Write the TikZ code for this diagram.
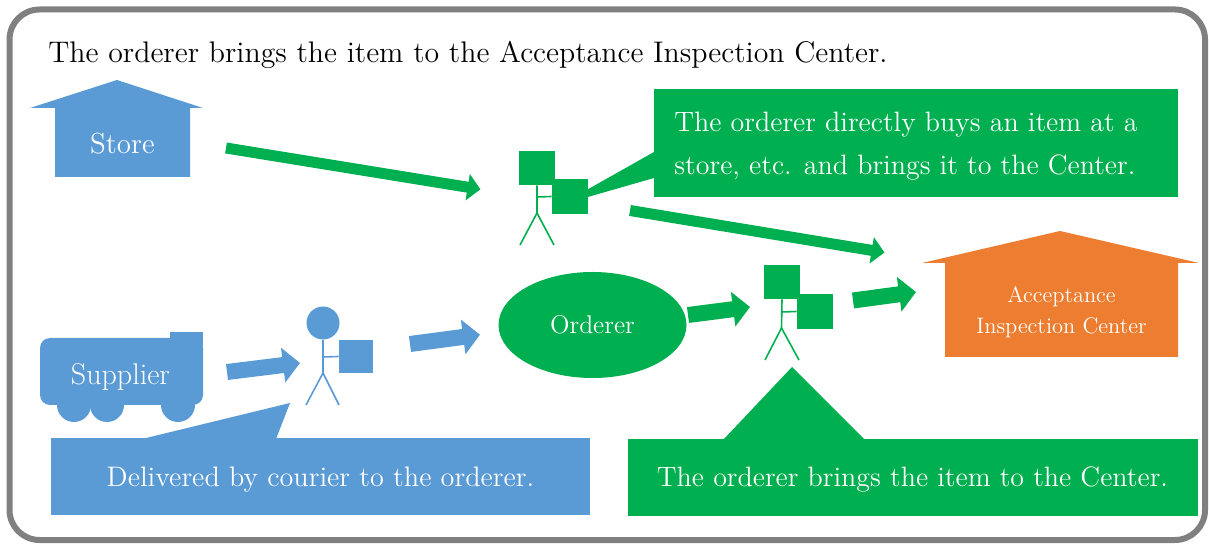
\documentclass[tikz,border=0pt]{standalone}
\usetikzlibrary{shapes.geometric,arrows.meta}
\definecolor{bleu}{RGB}{91,155,213}
\definecolor{vert}{RGB}{0,176,80}
\definecolor{orangeC}{RGB}{237,125,49}
\definecolor{cadre}{RGB}{128,128,128}
\begin{document}
\begin{tikzpicture}[x=0.5pt,y=-0.5pt]
% styles des nœuds
\tikzstyle{texte}=[text=white,inner sep=0pt]
\tikzstyle{colis}=[rectangle,inner sep=0pt,minimum width=18pt,minimum height=17.5pt]
\tikzstyle{trait}=[line width=0.8pt]
% styles des flèches
\tikzstyle{grosse}=[line width=8pt,-{Triangle[length=8.5pt,width=17pt]}]
\tikzstyle{fine}=[line width=5.5pt,-{Triangle[length=6.5pt,width=13pt]}]
\useasboundingbox (0,0) rectangle (1209,544);
% cadre et titre
\draw[cadre,line width=3pt,rounded corners=15pt] (9.5,9.5) rectangle (1205,540);
\node[anchor=base west,inner sep=0pt,font=\fontsize{14.9}{17}\selectfont] (titre) at (48,63) {The orderer brings the item to the Acceptance Inspection Center.};
% magasin
\fill[bleu] (30,108) -- (117,80) -- (203,108) -- (190,108) -- (190,177) -- (55,177) -- (55,108) -- cycle;
\node[texte,anchor=base,font=\fontsize{14.5}{17}\selectfont] (store) at (122.5,154) {Store};
% camion du fournisseur
\fill[bleu,rounded corners=5pt] (40,338) rectangle (203,405);
\fill[bleu] (170,332) rectangle (203,346);
\foreach \x in {74,107,178}
  \fill[bleu] (\x,405) circle[radius=17];
\node[texte,anchor=base,font=\fontsize{15}{18}\selectfont] (supplier) at (120.5,385) {Supplier};
% bulle bleue
\fill[bleu] (51,438) rectangle (590,515);
\fill[bleu] (142,439) -- (290,403) -- (276,439) -- cycle;
\node[texte,anchor=base,font=\fontsize{14.1}{17}\selectfont] (livraison) at (320.5,487) {Delivered by courier to the orderer.};
% coursier
\node[circle,fill=bleu,minimum size=16.5pt,inner sep=0pt] (teteB) at (323,323) {};
\node[colis,fill=bleu,minimum width=17pt,minimum height=16.5pt] (colisB) at (356,356.5) {};
\coordinate (hancheB) at (323,373);
\draw[bleu,trait] (teteB.south) -- (hancheB) -- (306,405);
\draw[bleu,trait] (hancheB) -- (339,405);
\draw[bleu,trait] (323,357) -- (colisB.west);
% commanditaire
\node[ellipse,fill=vert,minimum width=94pt,minimum height=53pt,inner sep=0pt,text=white,font=\fontsize{12.8}{15}\selectfont] (orderer) at (592.5,325) {Orderer};
% bulle verte du haut
\fill[vert] (654,89) rectangle (1178,197);
\fill[vert] (654,152) -- (654,178) -- (560,205) -- cycle;
\node[texte,anchor=west,align=left,font=\fontsize{14}{21.6}\selectfont] (achat) at (674,146.4) {The orderer directly buys an item at a\\store, etc. and brings it to the Center.};
% porteur du haut
\node[colis,fill=vert,minimum height=17pt] (teteH) at (537,168) {};
\node[colis,fill=vert] (colisH) at (570,196.5) {};
\coordinate (hancheH) at (537,213);
\draw[vert,trait] (teteH.south) -- (hancheH) -- (520,245);
\draw[vert,trait] (hancheH) -- (554,245);
\draw[vert,trait] (537,197) -- (colisH.west);
% bulle verte du bas
\fill[vert] (628,439) rectangle (1198,516);
\fill[vert] (723,440) -- (792,367) -- (865,440) -- cycle;
\node[texte,anchor=base,font=\fontsize{14}{17}\selectfont] (apport) at (912.5,487) {The orderer brings the item to the Center.};
% porteur du bas
\node[colis,fill=vert,minimum height=17pt] (teteV) at (782,282) {};
\node[colis,fill=vert] (colisV) at (815,311.5) {};
\coordinate (hancheV) at (781.5,328);
\draw[vert,trait] (teteV.south) -- (hancheV) -- (765,360);
\draw[vert,trait] (hancheV) -- (799,360);
\draw[vert,trait] (781.5,312) -- (colisV.west);
% centre de réception
\fill[orangeC] (922,263) -- (1060,231) -- (1199,263) -- (1178,263) -- (1178,357) -- (945,357) -- (945,263) -- cycle;
\node[texte,align=center,font=\fontsize{11.2}{15.8}\selectfont] (centre) at (1061.5,312) {Acceptance\\Inspection Center};
% extrémités des flèches
\coordinate (s1) at (226,148);    \coordinate (t1) at (480.5,189.3);
\coordinate (s2) at (630,210.5);  \coordinate (t2) at (884.5,252.5);
\coordinate (s3) at (227,372);    \coordinate (t3) at (300,363);
\coordinate (s4) at (410,344);    \coordinate (t4) at (480,334.7);
\coordinate (s5) at (688,315);    \coordinate (t5) at (750,307);
\coordinate (s6) at (853,300.5);  \coordinate (t6) at (916,292);
% placement des flèches
\draw[fine,vert] (s1) -- (t1);
\draw[fine,vert] (s2) -- (t2);
\draw[grosse,bleu] (s3) -- (t3);
\draw[grosse,bleu] (s4) -- (t4);
\draw[grosse,vert] (s5) -- (t5);
\draw[grosse,vert] (s6) -- (t6);
\end{tikzpicture}
\end{document}
